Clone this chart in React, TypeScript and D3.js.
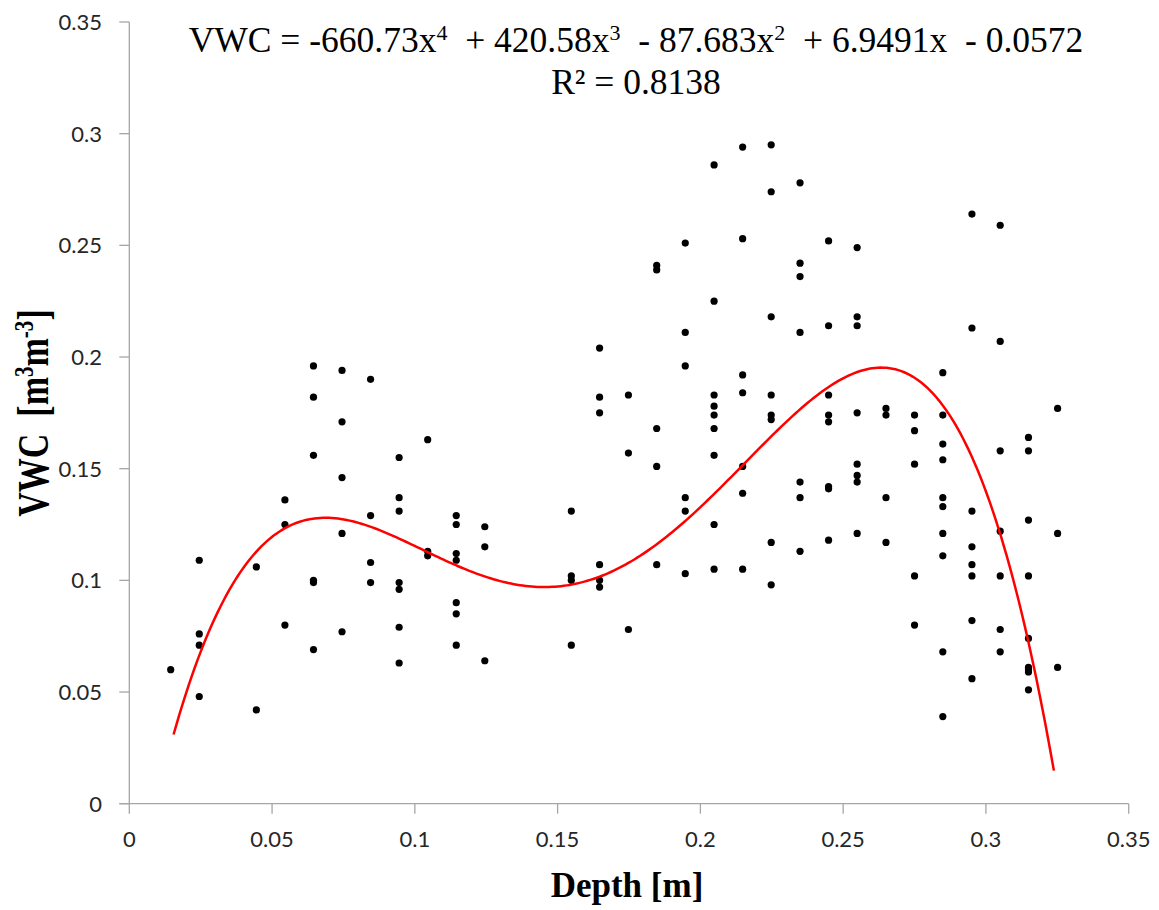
import React from "react";
import * as d3 from "d3";

// ---- data ----
const depthLevels = [
  0.0145, 0.0245, 0.0445, 0.0545, 0.0645, 0.0745, 0.0845, 0.0945, 0.1045, 0.1145,
  0.1245, 0.1548, 0.1647, 0.1748, 0.1847, 0.1947, 0.2048, 0.2148, 0.2248, 0.2349,
  0.2449, 0.2549, 0.265, 0.275, 0.2849, 0.2951, 0.305, 0.3149, 0.3251,
];
const vwcByDepth: number[][] = [
  [0.06],
  [0.109, 0.076, 0.071, 0.048],
  [0.106, 0.042],
  [0.136, 0.125, 0.08],
  [0.196, 0.182, 0.156, 0.1, 0.099, 0.069],
  [0.194, 0.171, 0.146, 0.121, 0.077],
  [0.19, 0.129, 0.108, 0.099],
  [0.155, 0.137, 0.131, 0.099, 0.096, 0.079, 0.063],
  [0.163, 0.113, 0.111],
  [0.129, 0.125, 0.112, 0.109, 0.09, 0.085, 0.071],
  [0.124, 0.115, 0.064],
  [0.131, 0.102, 0.1, 0.071],
  [0.204, 0.182, 0.175, 0.107, 0.1, 0.097],
  [0.183, 0.157, 0.078],
  [0.241, 0.239, 0.168, 0.151, 0.107],
  [0.251, 0.211, 0.196, 0.137, 0.131, 0.103],
  [0.286, 0.225, 0.183, 0.178, 0.174, 0.168, 0.156, 0.125, 0.105],
  [0.294, 0.253, 0.192, 0.184, 0.151, 0.139, 0.105],
  [0.295, 0.274, 0.218, 0.183, 0.174, 0.172, 0.117, 0.098],
  [0.278, 0.242, 0.236, 0.211, 0.144, 0.137, 0.113],
  [0.252, 0.214, 0.183, 0.174, 0.171, 0.142, 0.141, 0.118],
  [0.249, 0.218, 0.214, 0.175, 0.152, 0.147, 0.144, 0.121],
  [0.177, 0.174, 0.137, 0.117],
  [0.174, 0.167, 0.152, 0.102, 0.08],
  [0.193, 0.174, 0.161, 0.154, 0.137, 0.133, 0.121, 0.111, 0.068, 0.039],
  [0.264, 0.213, 0.131, 0.115, 0.107, 0.102, 0.082, 0.056],
  [0.259, 0.207, 0.158, 0.122, 0.102, 0.078, 0.068],
  [0.164, 0.158, 0.127, 0.102, 0.074, 0.061, 0.06, 0.059, 0.051],
  [0.177, 0.121, 0.061],
];
// trendline polynomial coefficients, highest power first
const trendCoefficients = [-660.73, 420.58, -87.683, 6.9491, -0.0572];
const trendRange = [0.0155, 0.3238];
const xTicks = [0, 0.05, 0.1, 0.15, 0.2, 0.25, 0.3, 0.35];
const yTicks = [0, 0.05, 0.1, 0.15, 0.2, 0.25, 0.3, 0.35];
const rSquared = "0.8138";

const W = 1159;
const H = 910;

export default function App() {
  const x = d3.scaleLinear().domain([0, 0.35]).range([129.3, 1128.7]);
  const y = d3.scaleLinear().domain([0, 0.35]).range([803.7, 22]);

  const points = depthLevels.flatMap((d, i) => vwcByDepth[i].map((v) => [d, v]));

  const poly = (t: number) =>
    trendCoefficients.reduce((acc, c) => acc * t + c, 0);
  const trendPts = d3.range(0, 301).map((i) => {
    const t = trendRange[0] + ((trendRange[1] - trendRange[0]) * i) / 300;
    return [t, poly(t)] as [number, number];
  });
  const line = d3
    .line<[number, number]>()
    .x((d) => x(d[0]))
    .y((d) => y(d[1]))
    .curve(d3.curveLinear);

  const fmt = (v: number) => (v === 0 ? "0" : String(+v.toFixed(2)));
  const axisColor = "#a6a6a6";
  const tickFont = "Lato, 'Open Sans', sans-serif";
  const serif = "'Liberation Serif', 'Times New Roman', serif";
  const supStyle = { fontSize: "0.62em" };

  return (
    <svg
      width={W}
      height={H}
      style={{ position: "absolute", left: 0, top: 0, background: "#fff" }}
    >
      <rect x={0} y={0} width={W} height={H} fill="#fff" />
      {/* axes */}
      <line x1={x(0)} x2={x(0)} y1={y(0.35)} y2={y(0)} stroke={axisColor} strokeWidth={1.3} />
      <line x1={x(0) - 10} x2={x(0.35)} y1={y(0)} y2={y(0)} stroke={axisColor} strokeWidth={1.3} />
      {yTicks.map((t) => (
        <g key={"y" + t}>
          <line x1={x(0) - 10} x2={x(0)} y1={y(t)} y2={y(t)} stroke={axisColor} strokeWidth={1.3} />
          <text
            x={102}
            y={y(t)}
            dy="0.36em"
            textAnchor="end"
            fontFamily={tickFont}
            fontSize={22}
            fill="#262626"
          >
            {fmt(t)}
          </text>
        </g>
      ))}
      {xTicks.map((t) => (
        <g key={"x" + t}>
          <line x1={x(t)} x2={x(t)} y1={y(0)} y2={y(0) + 10} stroke={axisColor} strokeWidth={1.3} />
          <text
            x={x(t)}
            y={847}
            textAnchor="middle"
            fontFamily={tickFont}
            fontSize={22}
            fill="#262626"
          >
            {fmt(t)}
          </text>
        </g>
      ))}

      {/* points */}
      {points.map((p, i) => (
        <circle key={i} cx={x(p[0])} cy={y(p[1])} r={3.6} fill="#000" />
      ))}

      {/* trendline */}
      <path d={line(trendPts) || ""} fill="none" stroke="#ff0000" strokeWidth={2.5} />

      {/* equation */}
      <text
        x={636}
        y={52}
        textAnchor="middle"
        fontFamily={serif}
        fontSize={35.5}
        fill="#000"
        style={{ whiteSpace: "pre" }}
      >
        <tspan>VWC = -660.73x</tspan>
        <tspan baselineShift="super" style={supStyle}>4</tspan>
        <tspan>{"  + 420.58x"}</tspan>
        <tspan baselineShift="super" style={supStyle}>3</tspan>
        <tspan>{"  - 87.683x"}</tspan>
        <tspan baselineShift="super" style={supStyle}>2</tspan>
        <tspan>{"  + 6.9491x  - 0.0572"}</tspan>
      </text>
      <text
        x={636}
        y={93.5}
        textAnchor="middle"
        fontFamily={serif}
        fontSize={35.5}
        fill="#000"
      >
        {"R² = " + rSquared}
      </text>

      {/* axis titles */}
      <text
        x={627}
        y={896.5}
        textAnchor="middle"
        fontFamily={serif}
        fontWeight="bold"
        fontSize={35}
        fill="#000"
      >
        Depth [m]
      </text>
      <g transform={`translate(33, 413) rotate(-90) scale(1, 1.3)`}>
        <text
          x={0}
          y={0}
          dy="0.33em"
          textAnchor="middle"
          fontFamily={serif}
          fontWeight="bold"
          fontSize={34}
          fill="#000"
          style={{ whiteSpace: "pre" }}
        >
          <tspan>{"VWC  [m"}</tspan>
          <tspan baselineShift="super" style={supStyle}>3</tspan>
          <tspan>m</tspan>
          <tspan baselineShift="super" style={supStyle}>-3</tspan>
          <tspan>]</tspan>
        </text>
      </g>
    </svg>
  );
}
